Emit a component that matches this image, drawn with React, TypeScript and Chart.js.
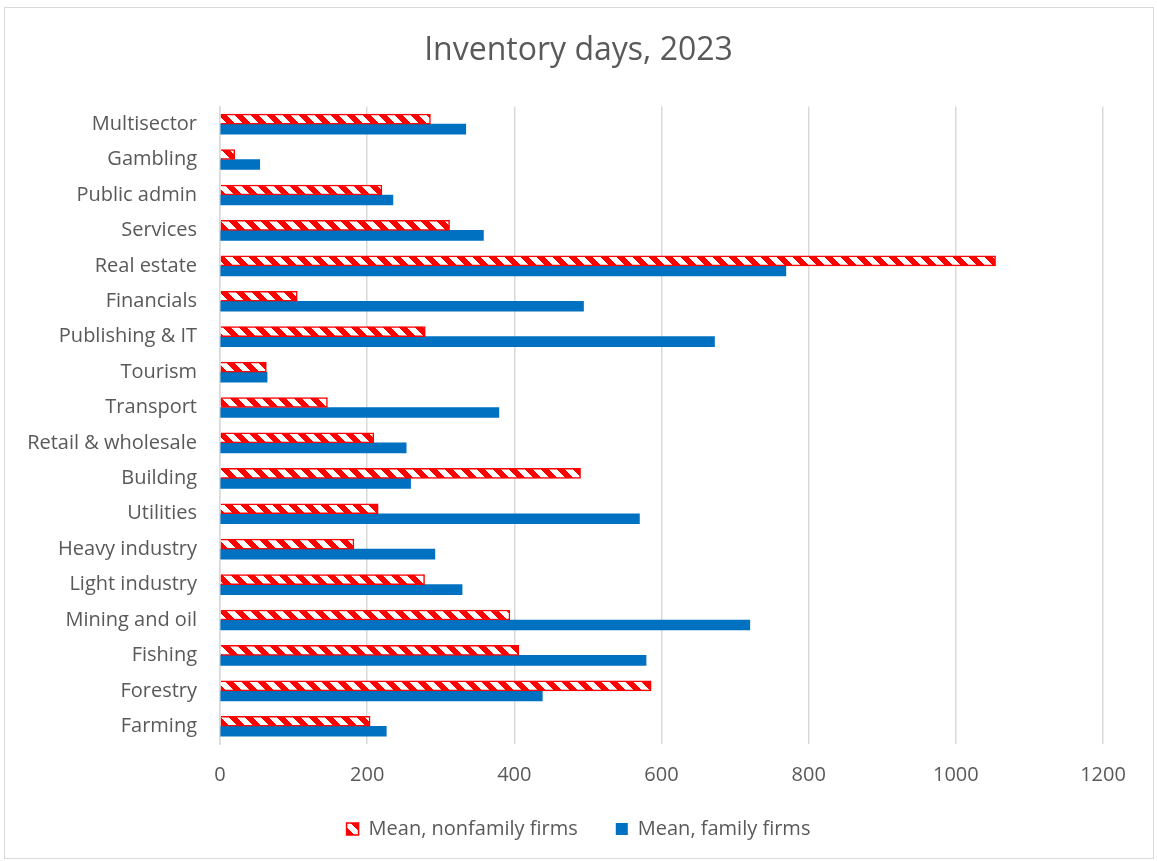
import React, { useEffect, useRef } from "react";
import { Chart, registerables } from "chart.js";

Chart.register(...registerables);

const categories = [
  "Multisector",
  "Gambling",
  "Public admin",
  "Services",
  "Real estate",
  "Financials",
  "Publishing & IT",
  "Tourism",
  "Transport",
  "Retail & wholesale",
  "Building",
  "Utilities",
  "Heavy industry",
  "Light industry",
  "Mining and oil",
  "Fishing",
  "Forestry",
  "Farming",
];

const nonfamilyMeans = [286, 20, 220, 312, 1054, 105, 279, 63, 146, 209, 490, 215, 182, 278, 394, 406, 586, 204];
const familyMeans = [334, 54, 235, 358, 769, 494, 672, 64, 379, 253, 259, 570, 292, 329, 720, 579, 438, 226];

const xTicks = [0, 200, 400, 600, 800, 1000, 1200];

const TEXT = "#595959";
const FONT = "'Open Sans', 'DejaVu Sans', sans-serif";

function makePattern(ctx: CanvasRenderingContext2D): CanvasPattern | string {
  const c = document.createElement("canvas");
  c.width = 16;
  c.height = 16;
  const p = c.getContext("2d");
  if (!p) return "#FF0000";
  p.fillStyle = "#FF0000";
  p.fillRect(0, 0, 16, 16);
  p.fillStyle = "#FFFFFF";
  for (let y = 0; y < 16; y++) {
    for (let x = 0; x < 16; x++) {
      const d = (((x - y) % 16) + 16) % 16;
      if (d < 8) p.fillRect(x, y, 1, 1);
    }
  }
  return ctx.createPattern(c, "repeat") || "#FF0000";
}

export default function App() {
  const ref = useRef<HTMLCanvasElement | null>(null);

  useEffect(() => {
    const canvas = ref.current;
    if (!canvas) return;
    const ctx = canvas.getContext("2d");
    if (!ctx) return;
    const pattern = makePattern(ctx);

    const chart = new Chart(canvas, {
      type: "bar",
      data: {
        labels: categories,
        datasets: [
          {
            label: "Mean, nonfamily firms",
            data: nonfamilyMeans,
            backgroundColor: pattern as any,
            borderColor: "#FF0000",
            borderWidth: 1.5,
            barThickness: 10,
          },
          {
            label: "Mean, family firms",
            data: familyMeans,
            backgroundColor: "#0070C0",
            borderColor: "#0070C0",
            borderWidth: 0,
            barThickness: 10,
          },
        ],
      },
      options: {
        indexAxis: "y",
        responsive: false,
        animation: false,
        devicePixelRatio: 1,
        layout: { padding: { left: 0, right: 0, top: 14, bottom: 12 } },
        plugins: {
          title: {
            display: true,
            text: "Inventory days, 2023",
            color: TEXT,
            font: { family: FONT, size: 32, weight: "normal", lineHeight: 1.2 },
            padding: { top: 18, bottom: 36 },
          },
          legend: {
            position: "bottom",
            labels: {
              color: TEXT,
              font: { family: FONT, size: 20 },
              boxWidth: 12,
              boxHeight: 12,
              padding: 38,
            },
          },
          tooltip: { enabled: false },
        },
        scales: {
          x: {
            min: 0,
            max: 1200,
            afterBuildTicks: (scale: any) => {
              scale.ticks = xTicks.map((v) => ({ value: v }));
            },
            afterFit: (scale: any) => {
              scale.height = 37;
            },
            grid: { color: "#D9D9D9", lineWidth: 1.5, drawTicks: false },
            border: { display: false },
            ticks: {
              color: TEXT,
              font: { family: FONT, size: 20 },
              padding: 19,
              callback: (v: any) => String(v),
            },
          },
          y: {
            afterFit: (scale: any) => {
              scale.width = 220;
            },
            grid: { display: false, drawTicks: false },
            border: { display: true, color: "#D9D9D9", width: 1.5 },
            ticks: {
              color: TEXT,
              font: { family: FONT, size: 20 },
              padding: 23,
              autoSkip: false,
            },
          },
          yRight: {
            type: "category",
            position: "right",
            display: true,
            afterFit: (scale: any) => {
              scale.width = 54;
            },
            grid: { display: false, drawTicks: false },
            border: { display: false },
            ticks: { display: false },
          },
        },
      },
    });

    return () => chart.destroy();
  }, []);

  return (
    <div style={{ position: "absolute", left: 0, top: 0, width: 1157, height: 861, background: "#fff" }}>
      <canvas ref={ref} width={1157} height={861} style={{ position: "absolute", left: 0, top: 0 }} />
      <div
        style={{
          position: "absolute",
          left: 4,
          top: 7,
          width: 1148,
          height: 850,
          border: "1px solid #D9D9D9",
          pointerEvents: "none",
        }}
      />
    </div>
  );
}
